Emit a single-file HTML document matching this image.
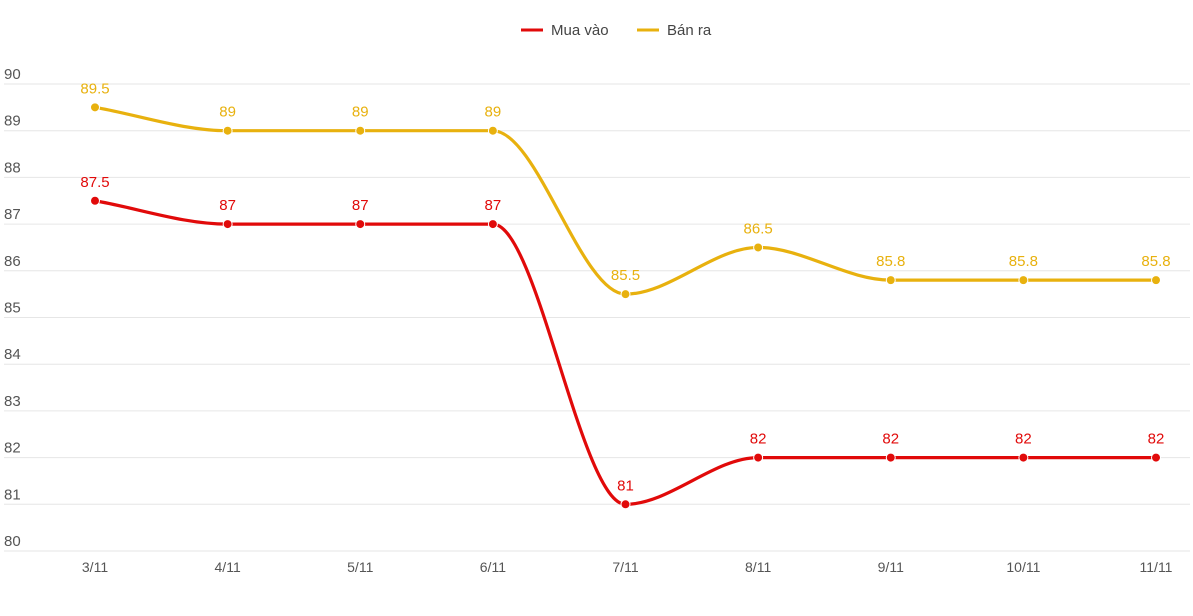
<!DOCTYPE html>
<html><head><meta charset="utf-8"><style>
html,body{margin:0;padding:0;background:#fff;}
svg{display:block;font-family:"Liberation Sans",sans-serif;}
</style></head><body>
<svg id="chart" width="1193" height="616">
<g>
 <g>
  <line x1="521" y1="30" x2="543" y2="30" stroke="#e10a0a" stroke-width="3"/>
  <text x="551" y="35" font-size="15" fill="#444">Mua vào</text>
 </g>
 <g>
  <line x1="637" y1="30" x2="659" y2="30" stroke="#e8b10e" stroke-width="3"/>
  <text x="667" y="35" font-size="15" fill="#444">Bán ra</text>
 </g>
</g>
<g id="grid"></g>
<g id="yaxis"></g>
<g id="xaxis"></g>
<g id="series"></g>
</svg>
<script>
const categories = ["3/11","4/11","5/11","6/11","7/11","8/11","9/11","10/11","11/11"];
const buyValues = [87.5,87,87,87,81,82,82,82,82];
const sellValues = [89.5,89,89,89,85.5,86.5,85.8,85.8,85.8];
const yTicks = [80,81,82,83,84,85,86,87,88,89,90];

const NS="http://www.w3.org/2000/svg";
const x0=95, x1=1156, yTop=84, yBot=551, yMin=80, yMax=90;
function xScale(i){return x0+(x1-x0)*i/(categories.length-1);}
function yScale(v){return yBot-(v-yMin)/(yMax-yMin)*(yBot-yTop);}
function mk(tag,attrs,parent){const e=document.createElementNS(NS,tag);for(const k in attrs)e.setAttribute(k,attrs[k]);parent.appendChild(e);return e;}

const grid=document.getElementById('grid'), ya=document.getElementById('yaxis'), xa=document.getElementById('xaxis'), ser=document.getElementById('series');
yTicks.forEach(t=>{
 const y=yScale(t);
 const l=mk('line',{x1:4,x2:1190,y1:y,y2:y,stroke:"#e6e6e6","stroke-width":1},grid);
 
 
 const tx=mk('text',{x:4,y:y-5,"font-size":15,fill:"#555"},ya);
 tx.textContent=t;
 
 
});
categories.forEach((c,i)=>{
 const tx=mk('text',{x:xScale(i),y:572,"font-size":14,fill:"#555","text-anchor":"middle"},xa);
 tx.textContent=c;
 
 
});

function monotonePath(pts){
 const n=pts.length, d=[], m=[];
 for(let i=0;i<n-1;i++) d.push((pts[i+1][1]-pts[i][1])/(pts[i+1][0]-pts[i][0]));
 for(let i=0;i<n;i++){
  if(i===0) m.push(d[0]); else if(i===n-1) m.push(d[n-2]);
  else m.push(d[i-1]*d[i]<=0?0:(d[i-1]+d[i])/2);
 }
 for(let i=0;i<n-1;i++){
  if(d[i]===0){m[i]=0;m[i+1]=0;continue;}
  const a=m[i]/d[i], b=m[i+1]/d[i], s=a*a+b*b;
  if(s>9){const t=3/Math.sqrt(s);m[i]=t*a*d[i];m[i+1]=t*b*d[i];}
 }
 let p="M"+pts[0][0]+","+pts[0][1];
 for(let i=0;i<n-1;i++){
  const h=(pts[i+1][0]-pts[i][0])/3;
  p+=" C"+(pts[i][0]+h)+","+(pts[i][1]+m[i]*h)+" "+(pts[i+1][0]-h)+","+(pts[i+1][1]-m[i+1]*h)+" "+pts[i+1][0]+","+pts[i+1][1];
 }
 return p;
}
function drawSeries(vals,color,name){
 const g=mk('g',{},ser);
 
 
 const pts=vals.map((v,i)=>[xScale(i),yScale(v)]);
 const path=mk('path',{d:monotonePath(pts),fill:"none",stroke:color,"stroke-width":3.2},g);
 
 
 pts.forEach((p,i)=>{
  const c=mk('circle',{cx:p[0],cy:p[1],r:4.5,fill:color,stroke:"#fff","stroke-width":1},g);
  
  
  const t=mk('text',{x:p[0],y:p[1]-14,"font-size":15,fill:color,"text-anchor":"middle"},g);
  t.textContent=vals[i];
  
  
 });
}
drawSeries(sellValues,"#e8b10e","ban-ra");
drawSeries(buyValues,"#e10a0a","mua-vao");
</script>
</body></html>
